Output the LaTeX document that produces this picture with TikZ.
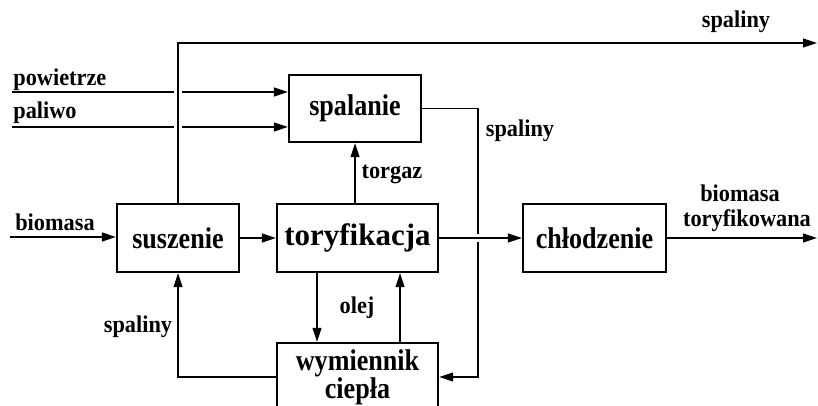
\documentclass[tikz,border=0pt]{standalone}
\usepackage{fontspec}
\setmainfont{Liberation Serif}
\newfontfamily\boxf{Liberation Serif}[FakeStretch=0.87]
\newfontfamily\labf{Liberation Serif}[FakeStretch=0.93]
\usetikzlibrary{arrows.meta}
\begin{document}
\begin{tikzpicture}[x=0.5pt,y=-0.5pt,
  box/.style={draw,line width=1.2pt,rectangle,inner sep=0pt,font=\boxf\bfseries\fontsize{15}{16}\selectfont},
  lab/.style={inner sep=0pt,font=\labf\bfseries\fontsize{12}{13}\selectfont},
  conn/.style={line width=0.55pt},
  arr/.style={conn,-{Triangle[length=7pt,width=4.5pt]}}]
\clip (0,0) rectangle (818,406);
\useasboundingbox (0,0) rectangle (818,406);
% boxes
\node[box,minimum width=61pt,minimum height=34pt] (sus) at (178,238) {suszenie};
\node[box,minimum width=80.5pt,minimum height=34pt,font=\bfseries\fontsize{15.5}{17}\selectfont] (tor) at (357.5,238) {toryfikacja};
\node[box,minimum width=66pt,minimum height=33.5pt] (spal) at (355,108.5) {spalanie};
\node[box,minimum width=71.5pt,minimum height=34pt] (chl) at (594.5,238) {chłodzenie};
\node[box,minimum width=80.5pt,minimum height=34pt,align=center] (wym) at (357.5,377) {\\[-5pt]wymiennik\\[-2pt]ciepła};
% coordinates
\coordinate (bin) at (10,237);
\coordinate (top) at (817,43);
\coordinate (pw) at (12,92);
\coordinate (pl) at (12,127);
\coordinate (rx) at (478,377);
\coordinate (out) at (817,237);
\coordinate (dx) at (317,0);
\coordinate (ux) at (400,0);
\coordinate (ry) at (0,377);
% connectors
\draw[arr] (bin) -- (bin -| sus.west);
\draw[arr] (sus.north) -- (sus.north |- top) -- (top);
\draw[conn] (pw) -- ([xshift=-2pt]pw -| sus.north);
\draw[arr] ([xshift=2pt]pw -| sus.north) -- (pw -| spal.west);
\draw[conn] (pl) -- ([xshift=-2pt]pl -| sus.north);
\draw[arr] ([xshift=2pt]pl -| sus.north) -- (pl -| spal.west);
\draw[arr] (sus.east) -- (tor.west);
\draw[arr] (tor.east) -- (chl.west);
\draw[arr] (chl.east) -- (out |- chl.east);
\draw[conn] (spal.east) -| ([yshift=2pt]rx |- tor.east);
\draw[arr] ([yshift=-2pt]rx |- tor.east) -- (rx) -- (rx -| wym.east);
\draw[arr] (spal.south |- tor.north) -- (spal.south);
\draw[arr] (dx |- tor.south) -- (dx |- wym.north);
\draw[arr] (ux |- wym.north) -- (ux |- tor.south);
\draw[arr] (wym.west |- ry) -| (sus.south);
% labels
\node[lab,anchor=base] (l1) at (736,28) {spaliny};
\node[lab,anchor=base west] (l2) at (13,86) {powietrze};
\node[lab,anchor=base west] (l3) at (13,119) {paliwo};
\node[lab,anchor=base] (l4) at (520,137) {spaliny};
\node[lab,anchor=base] (l5) at (392,179) {torgaz};
\node[lab,anchor=base] (l6) at (55,230) {biomasa};
\node[lab,anchor=base] (l7) at (138,332) {spaliny};
\node[lab,anchor=base] (l8) at (357,313) {olej};
\node[lab,anchor=base] (l9) at (740,202) {biomasa};
\node[lab,anchor=base] (l10) at (747,227) {toryfikowana};
\end{tikzpicture}
\end{document}
